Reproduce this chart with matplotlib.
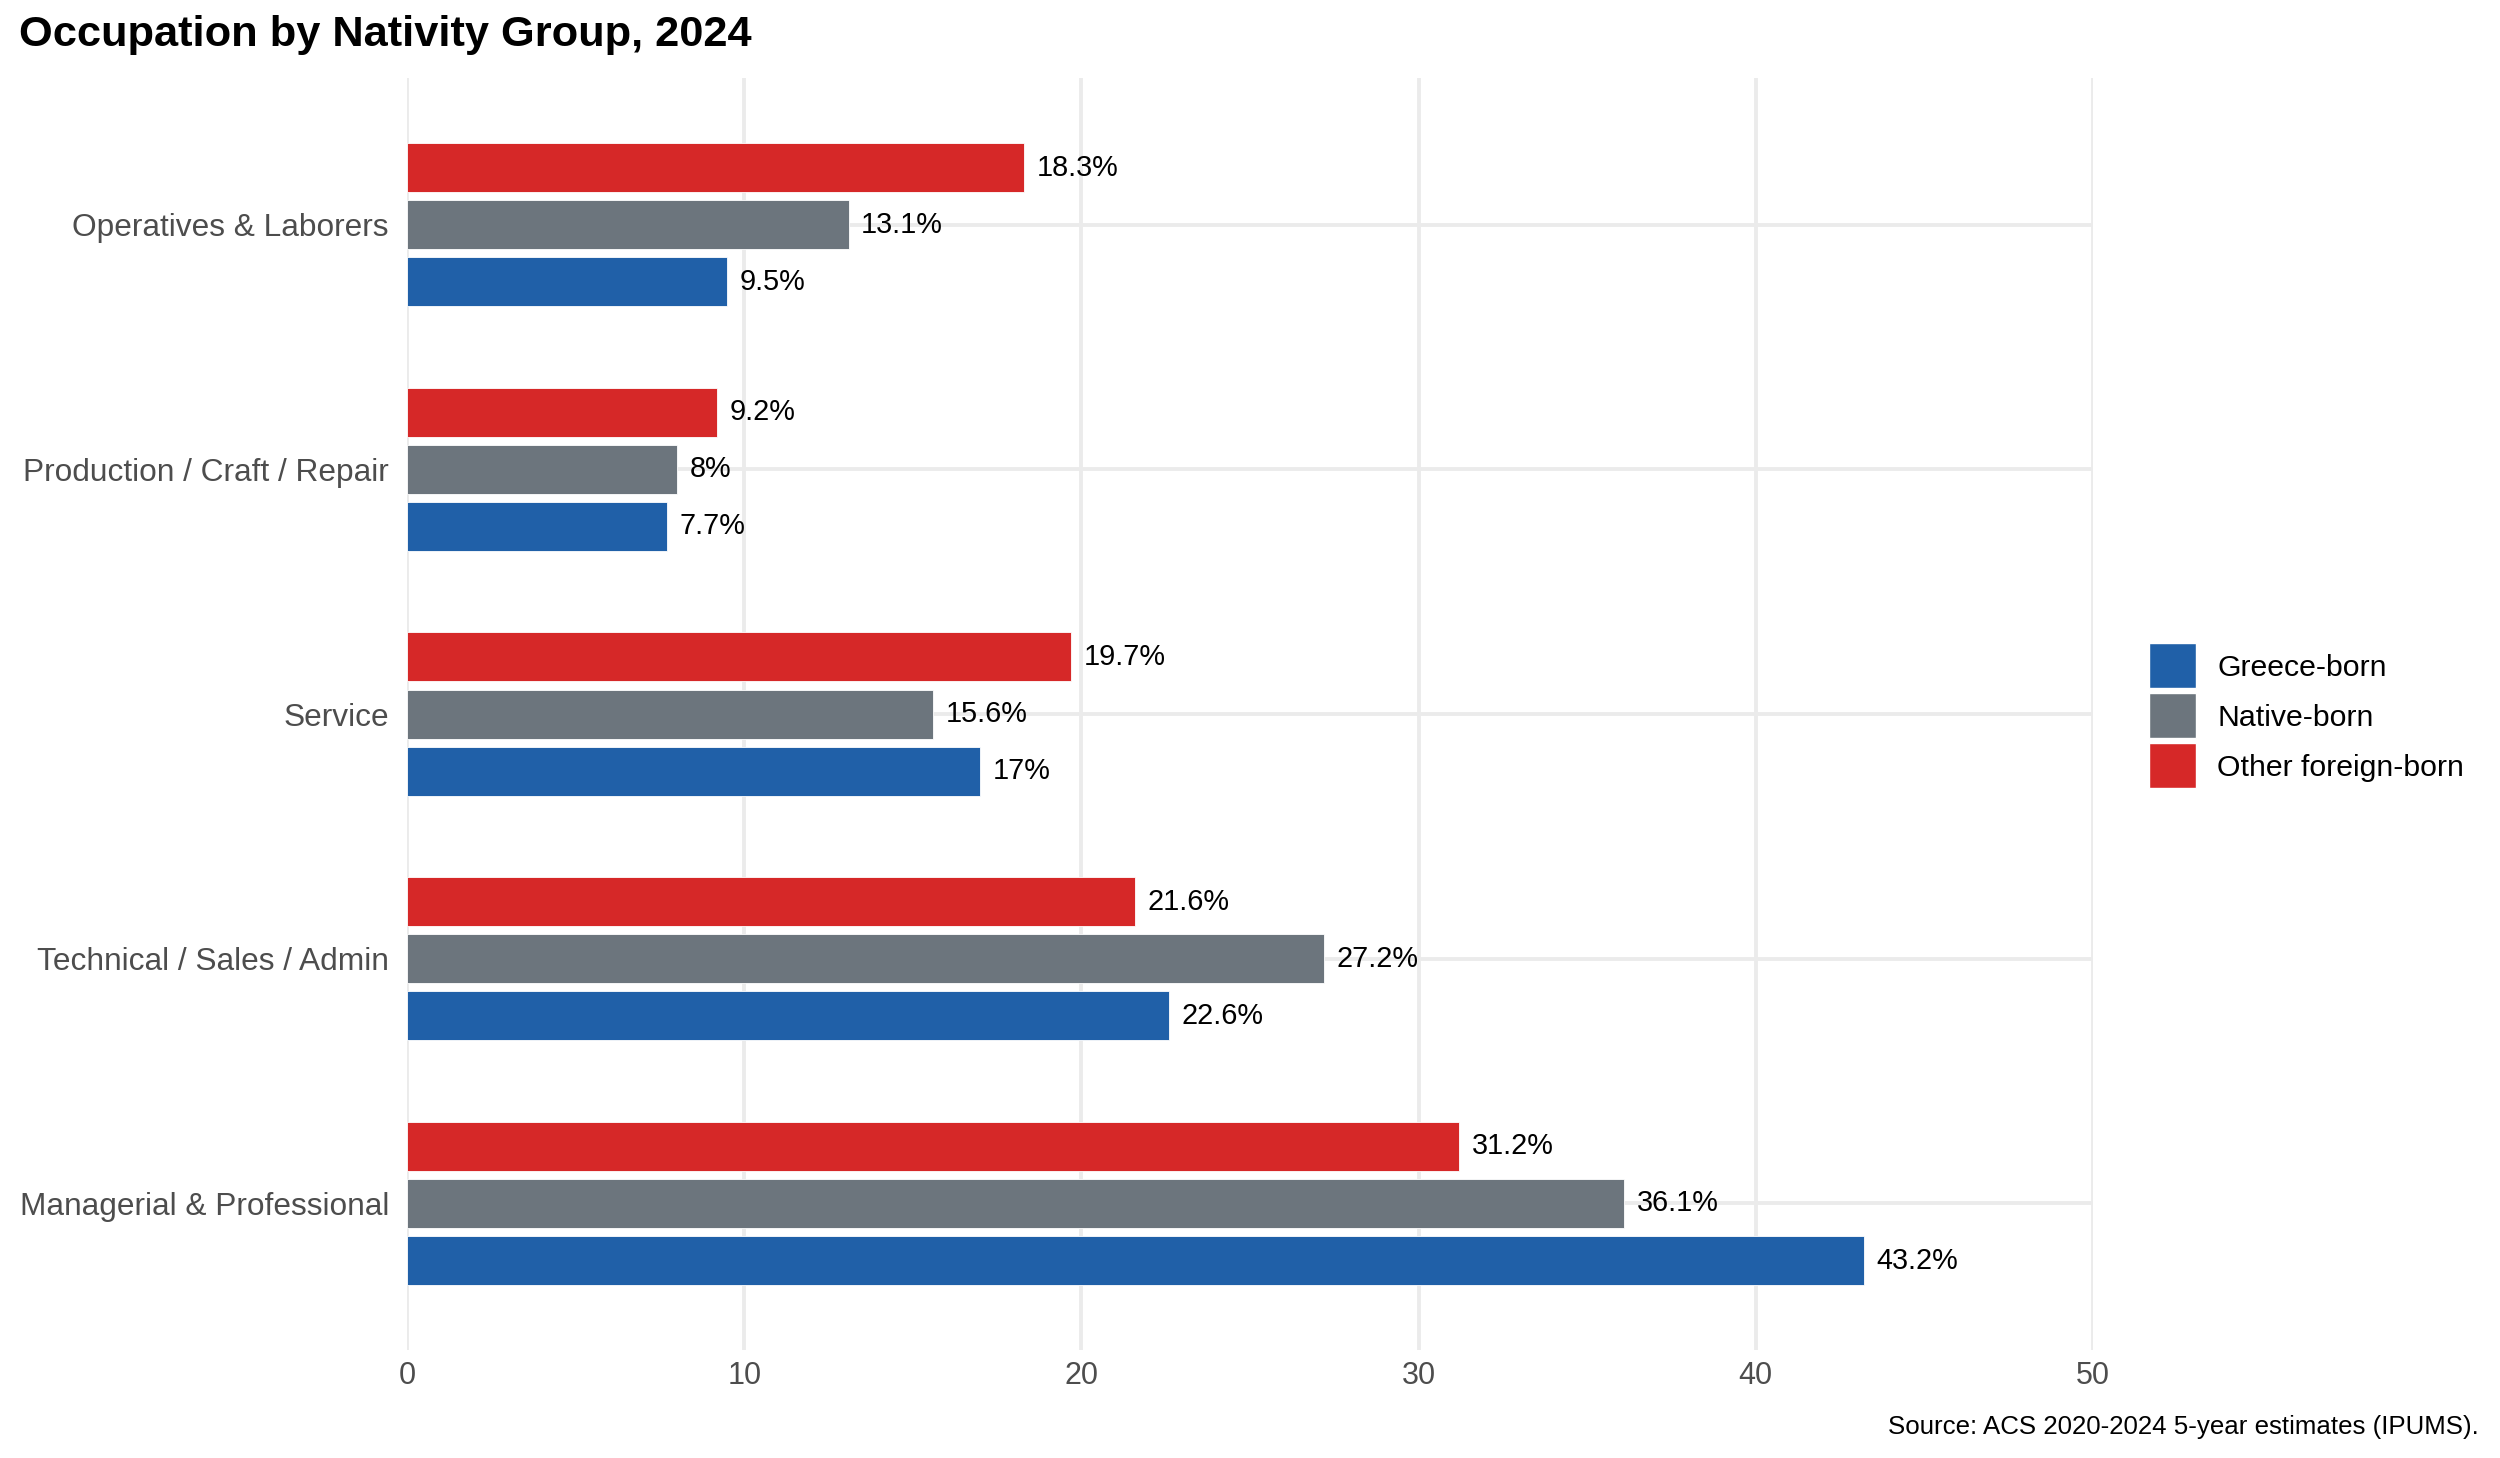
import numpy as np
import matplotlib
matplotlib.use("Agg")
import matplotlib.pyplot as plt
from matplotlib.patches import Patch

categories = ["Managerial & Professional", "Technical / Sales / Admin", "Service",
              "Production / Craft / Repair", "Operatives & Laborers"]
groups = ["Greece-born", "Native-born", "Other foreign-born"]
greece_born = [43.2, 22.6, 17, 7.7, 9.5]
native_born = [36.1, 27.2, 15.6, 8, 13.1]
other_foreign_born = [31.2, 21.6, 19.7, 9.2, 18.3]
x_ticks = [0, 10, 20, 30, 40, 50]

colors = ["#2060a8", "#6c757d", "#d62828"]

plt.rcParams['font.family'] = ['Liberation Sans', 'DejaVu Sans']

fig = plt.figure(figsize=(12.5, 7.29), dpi=200)
ax = fig.add_axes([0.1628, 0.0739, 0.8372 - 0.1628, 0.9466 - 0.0739])

y = np.arange(1, len(categories) + 1)
step = 0.7 / 3
height = 0.6 / 3
series = [greece_born, native_born, other_foreign_born]

for i, (vals, c) in enumerate(zip(series, colors)):
    bars = ax.barh(y + (i - 1) * step, vals, height=height, color=c,
                   edgecolor="white", linewidth=0.3, zorder=3)
    ax.bar_label(bars, labels=[f"{v:g}%" for v in vals], padding=4.5,
                 fontsize=10.4, color="black")

ax.set_xlim(0, 50)
ax.set_ylim(0.4, len(categories) + 0.6)
ax.set_xticks(x_ticks)
ax.set_yticks(y)
ax.set_yticklabels(categories)

ax.grid(True, color="#ebebeb", linewidth=1.4, zorder=0)
ax.set_axisbelow(True)
for s in ax.spines.values():
    s.set_visible(False)
ax.tick_params(axis="y", length=0, pad=6.5, labelsize=11.4, labelcolor="#4d4d4d")
ax.tick_params(axis="x", length=0, pad=4, labelsize=11, labelcolor="#4d4d4d")

handles = [Patch(facecolor=c, edgecolor="white", linewidth=0.5) for c in colors]
fig.legend(handles, groups, loc="center left", bbox_to_anchor=(0.8595, 0.509),
           frameon=False, fontsize=10.9, handlelength=1.55, handleheight=1.91,
           labelspacing=0.165, handletextpad=0.72, borderpad=0, borderaxespad=0)

fig.text(0.0076, 1 - 35 / 1458, "Occupation by Nativity Group, 2024",
         fontsize=15.6, fontweight="bold", va="center", ha="left")
fig.text(0.9915, 0.021, "Source: ACS 2020-2024 5-year estimates (IPUMS).",
         fontsize=9.3, va="center", ha="right")

fig.savefig("out.png", dpi=200)
